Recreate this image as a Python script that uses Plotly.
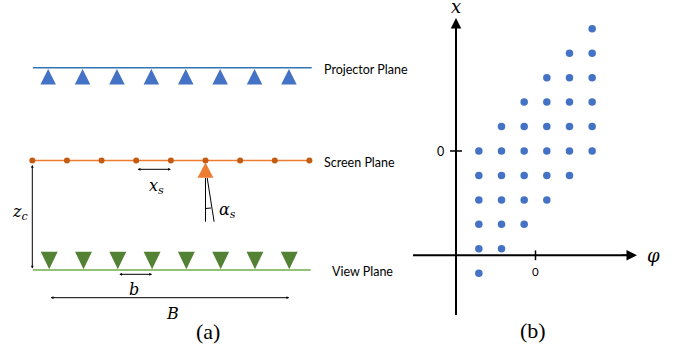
import numpy as np
import plotly.graph_objects as go

# ---------------- data ----------------
# panel (a): element indices along each plane (in units of the pixel pitch)
projector_idx = [0, 1, 2, 3, 4, 5, 6, 7]
screen_idx = [0, 1, 2, 3, 4, 5, 6, 7, 8]
viewer_idx = [0, 1, 2, 3, 4, 5, 6, 7]
active_screen_pixel = 5
plane_names = ["Projector Plane", "Screen Plane", "View Plane"]

# panel (b): sampled (phi, x) grid
phi_cols = [-2.5, -1.5, -0.5, 0.5, 1.5, 2.5]
x_rows_per_col = [
    [-5, -4, -3, -2, -1, 0],
    [-4, -3, -2, -1, 0, 1],
    [-3, -2, -1, 0, 1, 2],
    [-2, -1, 0, 1, 2, 3],
    [-1, 0, 1, 2, 3, 4],
    [0, 1, 2, 3, 4, 5],
]

# ---------------- layout constants ----------------
W, H = 683, 354
X0A, PA = 32.3, 34.5          # panel (a) pixel origin / pitch
X0B, PBX = 535.5, 22.66        # panel (b) phi origin / pitch
Y0B, PBY = 151.0, 24.45        # panel (b) x origin / pitch
Y_PROJ, Y_SCREEN, Y_VIEW = 67.7, 160.5, 270.0
PROJ_OFF, VIEW_OFF = 0.46, 0.49
TRI_HW = 0.225

BLUE_LINE = "#2E75B6"
BLUE = "#4472C4"
ORANGE = "#ED7D31"
ORANGE_DK = "#C55A11"
GREEN_LINE = "#70AD47"
GREEN = "#548235"

fig = go.Figure()


def tri_polys(centers, y_base, y_apex, hw):
    xs, ys = [], []
    for c in centers:
        xs += [c - hw, c + hw, c, c - hw, None]
        ys += [y_base, y_base, y_apex, y_base, None]
    return xs, ys


# projector plane
fig.add_trace(go.Scatter(x=[0.02, 8.1], y=[Y_PROJ, Y_PROJ], mode="lines",
                         line=dict(color=BLUE_LINE, width=1.6), hoverinfo="skip"))
pc = [PROJ_OFF + i * 0.997 for i in projector_idx]
tx, ty = tri_polys(pc, 84.5, 69.0, TRI_HW)
fig.add_trace(go.Scatter(x=tx, y=ty, mode="lines", fill="toself", fillcolor=BLUE,
                         line=dict(color=BLUE, width=0), hoverinfo="skip"))

# screen plane
fig.add_trace(go.Scatter(x=[screen_idx[0], screen_idx[-1] + 0.03], y=[Y_SCREEN, Y_SCREEN],
                         mode="lines", line=dict(color=ORANGE, width=1.6), hoverinfo="skip"))
fig.add_trace(go.Scatter(x=[i * 1.004 for i in screen_idx], y=[Y_SCREEN] * len(screen_idx),
                         mode="markers", marker=dict(color=ORANGE_DK, size=6), hoverinfo="skip"))
ac = active_screen_pixel * 1.004
tx, ty = tri_polys([ac], 177.7, 162.5, 0.23)
fig.add_trace(go.Scatter(x=tx, y=ty, mode="lines", fill="toself", fillcolor=ORANGE,
                         line=dict(color=ORANGE, width=0), hoverinfo="skip"))
# alpha_s lines
fig.add_trace(go.Scatter(x=[ac, ac, None, ac + 0.05, ac + 0.25, None, ac, ac + 0.16],
                         y=[178, 221.7, None, 178, 221.7, None, 208.5, 208.0],
                         mode="lines", line=dict(color="black", width=1), hoverinfo="skip"))

# view plane
fig.add_trace(go.Scatter(x=[0.02, 8.07], y=[Y_VIEW, Y_VIEW], mode="lines",
                         line=dict(color=GREEN_LINE, width=1.6), hoverinfo="skip"))
vc = [VIEW_OFF + i * 0.994 for i in viewer_idx]
tx, ty = tri_polys(vc, 251.7, 269.3, 0.245)
fig.add_trace(go.Scatter(x=tx, y=ty, mode="lines", fill="toself", fillcolor=GREEN,
                         line=dict(color=GREEN, width=0), hoverinfo="skip"))

# panel (b) dots
bx, by = [], []
for phi, rows in zip(phi_cols, x_rows_per_col):
    for r in rows:
        bx.append(phi)
        by.append(r)
fig.add_trace(go.Scatter(x=bx, y=by, mode="markers", xaxis="x2", yaxis="y2",
                         marker=dict(color=BLUE, size=7.5), hoverinfo="skip"))

# panel (b) axes lines
phi_axis_x = (456 - X0B) / PBX
x_axis_y = (Y0B - 255.3) / PBY
fig.add_trace(go.Scatter(x=[phi_axis_x, phi_axis_x], y=[(Y0B - 315) / PBY, (Y0B - 26) / PBY],
                         mode="lines", xaxis="x2", yaxis="y2",
                         line=dict(color="black", width=2), hoverinfo="skip"))
fig.add_trace(go.Scatter(x=[(413 - X0B) / PBX, (628 - X0B) / PBX], y=[x_axis_y, x_axis_y],
                         mode="lines", xaxis="x2", yaxis="y2",
                         line=dict(color="black", width=2), hoverinfo="skip"))
# ticks
fig.add_trace(go.Scatter(x=[(450 - X0B) / PBX, (462 - X0B) / PBX, None, 0, 0],
                         y=[0, 0, None, x_axis_y + 0.2, x_axis_y - 0.2],
                         mode="lines", xaxis="x2", yaxis="y2",
                         line=dict(color="black", width=1.5), hoverinfo="skip"))

ann = []


def arrow(x0, y0, x1, y1, both=True, xref="x", yref="y", head=2, size=0.55, width=1):
    ann.append(dict(x=x1, y=y1, ax=x0, ay=y0, xref=xref, yref=yref, axref=xref, ayref=yref,
                    text="", showarrow=True, arrowhead=head, startarrowhead=head,
                    arrowsize=size, startarrowsize=size, arrowwidth=width,
                    arrowside="end+start" if both else "end", arrowcolor="black",
                    standoff=0, startstandoff=0))


def label(x, y, text, size=13, family="Lato, sans-serif", xanchor="center", xref="x", yref="y"):
    ann.append(dict(x=x, y=y, xref=xref, yref=yref, text=text, showarrow=False,
                    font=dict(family=family, size=size, color="black"), xanchor=xanchor,
                    yanchor="middle"))


MATH = "DejaVu Serif, serif"
SERIF = "Liberation Serif, serif"
# panel (a) arrows
arrow(3 * 1.004, 169.3, 4 * 1.004, 169.3)
arrow(0, 163.5, 0, 268.5)
arrow(vc[2], 274.3, vc[3], 274.3)
arrow(vc[0], 297.7, vc[7], 297.7)

label(3.6, 186, "<i>x<sub>s</sub></i>", 16, MATH)
label(ac + 0.64, 210, "<i>α<sub>s</sub></i>", 16, MATH)
label(-0.36, 212, "<i>z<sub>c</sub></i>", 16, MATH)
label(vc[2] + 0.48, 289, "<i>b</i>", 16, MATH)
label(4.05, 313, "<i>B</i>", 16, MATH)
label(5.08, 331, "(a)", 22, SERIF)

label(8.39, Y_PROJ + 1.5, plane_names[0], 12.5, xanchor="left")
label(8.39, Y_SCREEN + 1.5, plane_names[1], 12.5, xanchor="left")
label(8.62, Y_VIEW + 1.5, plane_names[2], 12.5, xanchor="left")

# panel (b) arrows and labels
arrow(phi_axis_x, (Y0B - 30) / PBY, phi_axis_x, (Y0B - 18) / PBY, both=False,
      xref="x2", yref="y2", head=2, size=1.4, width=1.5)
arrow((620 - X0B) / PBX, x_axis_y, (637 - X0B) / PBX, x_axis_y, both=False,
      xref="x2", yref="y2", head=2, size=1.4, width=1.5)
label(phi_axis_x, (Y0B - 6) / PBY, "<i>x</i>", 18, MATH, xref="x2", yref="y2")
label((653 - X0B) / PBX, (Y0B - 255) / PBY, "<i>φ</i>", 18, MATH, xref="x2", yref="y2")
label((440 - X0B) / PBX, 0, "0", 12.5, xref="x2", yref="y2")
label(0, (Y0B - 271) / PBY, "0", 11.5, xref="x2", yref="y2")
label((533 - X0B) / PBX, (Y0B - 330) / PBY, "(b)", 22, SERIF, xref="x2", yref="y2")

ax_off = dict(visible=False, showgrid=False, zeroline=False, fixedrange=True)
fig.update_layout(
    width=W, height=H, autosize=False,
    margin=dict(l=0, r=0, t=0, b=0, pad=0),
    paper_bgcolor="white", plot_bgcolor="white",
    showlegend=False,
    xaxis=dict(domain=[0, 1], range=[(0 - X0A) / PA, (W - X0A) / PA], **ax_off),
    yaxis=dict(domain=[0, 1], range=[H, 0], **ax_off),
    xaxis2=dict(overlaying="x", anchor="y2", range=[(0 - X0B) / PBX, (W - X0B) / PBX], **ax_off),
    yaxis2=dict(overlaying="y", anchor="x2", range=[(Y0B - H) / PBY, Y0B / PBY], **ax_off),
    annotations=ann,
)

fig.write_html("out.html", config={"displayModeBar": False, "staticPlot": True},
               post_script="document.body.style.margin='0px';document.body.style.overflow='hidden';")
